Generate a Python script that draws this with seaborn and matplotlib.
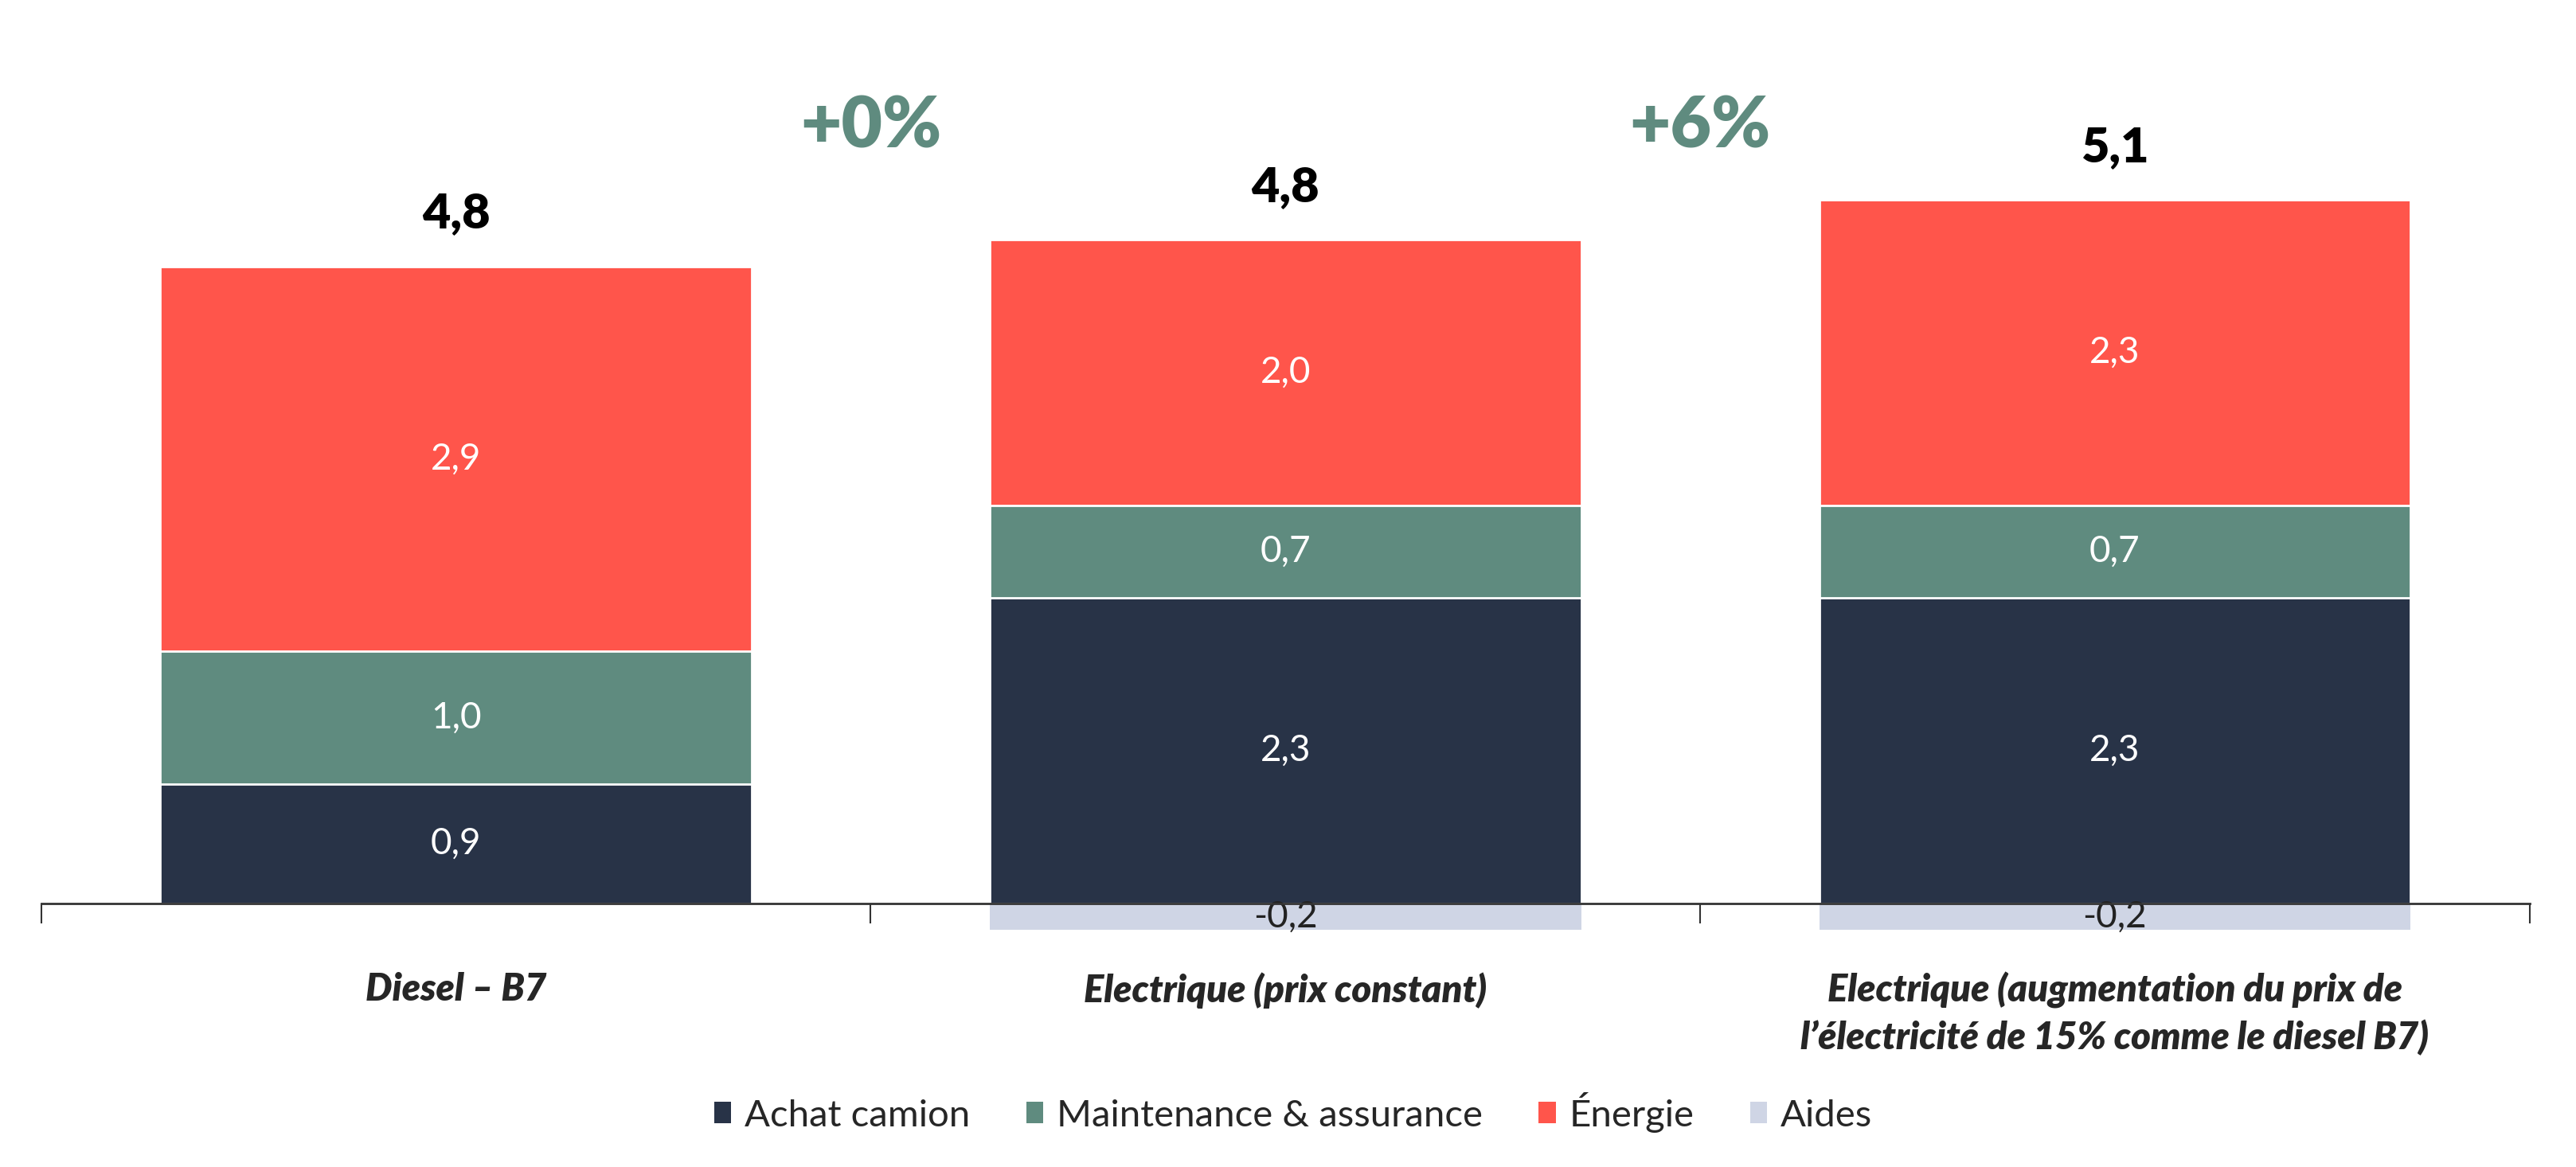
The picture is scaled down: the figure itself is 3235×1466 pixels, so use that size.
import numpy as np
import pandas as pd
import matplotlib
matplotlib.use("Agg")
import matplotlib.pyplot as plt
from matplotlib.patches import Patch
import seaborn as sns

# =====================================================
# DONNEES
# =====================================================
scenarios = [
    "Diesel – B7",
    "Electrique (prix constant)",
    "Electrique (augmentation du prix de\nl’électricité de 15% comme le diesel B7)",
]
achat = [0.9, 2.3, 2.3]
maintenance = [1.0, 0.7, 0.7]
energie = [2.9, 2.0, 2.3]
aides = [0.0, -0.2, -0.2]
totaux = ["4,8", "4,8", "5,1"]
ecarts = ["+0%", "+6%"]

series = ["Achat camion", "Maintenance & assurance", "Énergie", "Aides"]
couleurs = ["#283347", "#5f8b7f", "#ff554b", "#cfd5e5"]

df = pd.DataFrame({
    "scenario": scenarios,
    "achat": achat,
    "maintenance": maintenance,
    "energie": energie,
    "aides": aides,
})
df["cum_achat"] = df["achat"]
df["cum_maint"] = df["achat"] + df["maintenance"]
df["cum_energie"] = df["cum_maint"] + df["energie"]

# =====================================================
# STYLE
# =====================================================
sns.set_theme(style="white")
plt.rcParams["font.family"] = ["Lato", "DejaVu Sans"]

fig = plt.figure(figsize=(32.35, 14.66), dpi=100)
ax = fig.add_axes([0.016, 0.169, 0.966, 0.796])

bar_w = 0.713
common = dict(x="scenario", order=scenarios, width=bar_w, saturation=1,
              edgecolor="white", linewidth=2, ax=ax, errorbar=None)

# barres empilées (cumuls superposés)
sns.barplot(data=df, y="cum_energie", color=couleurs[2], **common)
sns.barplot(data=df, y="cum_maint", color=couleurs[1], **common)
sns.barplot(data=df, y="cum_achat", color=couleurs[0], **common)
sns.barplot(data=df[df["aides"] < 0], y="aides", color=couleurs[3],
            x="scenario", order=scenarios, width=bar_w, saturation=1,
            linewidth=0, ax=ax, errorbar=None)

# étiquettes des segments
fs_seg = 33
for i, row in df.iterrows():
    ax.text(i, row["achat"] / 2, f"{row['achat']:.1f}".replace(".", ","),
            ha="center", va="center", color="white", fontsize=fs_seg)
    ax.text(i, row["cum_achat"] + row["maintenance"] / 2,
            f"{row['maintenance']:.1f}".replace(".", ","),
            ha="center", va="center", color="white", fontsize=fs_seg)
    ax.text(i, row["cum_maint"] + row["energie"] / 2,
            f"{row['energie']:.1f}".replace(".", ","),
            ha="center", va="center", color="white", fontsize=fs_seg)
    if row["aides"] < 0:
        ax.text(i, row["aides"] / 2, f"{row['aides']:.1f}".replace(".", ","),
                ha="center", va="center", color="#222222", fontsize=fs_seg)
    ax.text(i, row["cum_energie"] + 0.4, totaux[i], ha="center", va="center",
            color="black", fontsize=44, fontweight="heavy")

for k, txt in enumerate(ecarts):
    ax.text(k + 0.5, 5.85, txt, ha="center", va="center", color=couleurs[1],
            fontsize=64, fontweight="heavy")

# =====================================================
# AXES
# =====================================================
ax.set_xlim(-0.5, 2.5)
ax.set_ylim(-0.5, 6.5)
for s in ["top", "right", "left"]:
    ax.spines[s].set_visible(False)
ax.spines["bottom"].set_position(("data", 0))
ax.spines["bottom"].set_color("#333333")
ax.spines["bottom"].set_linewidth(2)
ax.spines["bottom"].set_zorder(5)
ax.set_yticks([])
ax.set_xlabel("")
ax.set_ylabel("")

ax.set_xticks(range(len(scenarios)))
ax.set_xticklabels(scenarios, fontsize=34, fontweight="heavy", style="italic",
                   linespacing=1.35)
ax.set_xticks(np.arange(-0.5, 3.0, 1.0), minor=True)
ax.tick_params(axis="x", which="major", length=0, pad=62)
ax.tick_params(axis="x", which="minor", length=18, width=1.5,
               direction="out", color="#333333", bottom=True)

# =====================================================
# LEGENDE
# =====================================================
handles = [Patch(facecolor=c, edgecolor="none") for c in couleurs]
fig.legend(handles, series, loc="center", bbox_to_anchor=(0.502, 0.047),
           ncol=4, frameon=False, fontsize=34, handlelength=0.45,
           handleheight=0.5, handletextpad=0.35, columnspacing=1.5)

fig.savefig("out.png", dpi=100, facecolor="white")
